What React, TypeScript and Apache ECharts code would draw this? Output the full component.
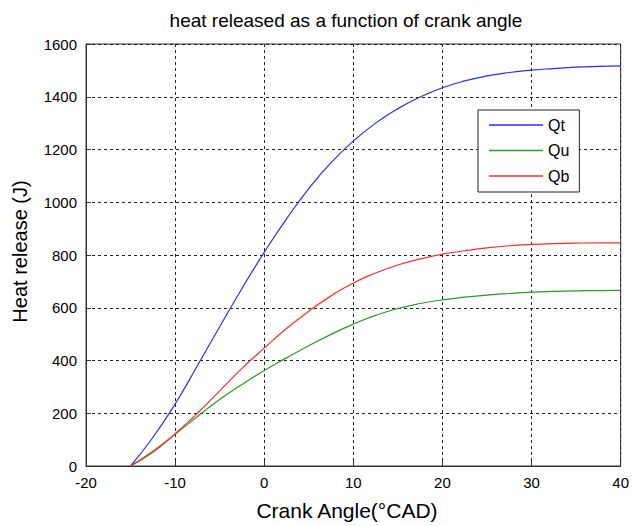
import React, { useEffect, useRef } from "react";
import * as echarts from "echarts";

const titleText = "heat released as a function of crank angle";
const xAxisTitle = "Crank Angle(°CAD)";
const yAxisTitle = "Heat release (J)";
const seriesNames = ["Qt", "Qu", "Qb"];

const crankAngle = [
  -15, -12.5, -10, -7.5, -5, -2.5, 0, 2.5, 5, 7.5, 10, 12.5, 15, 17.5, 20,
  22.5, 25, 27.5, 30, 32.5, 35, 37.5, 40,
];
const qt = [
  0, 108, 235, 380, 528, 673, 810, 937, 1052, 1150, 1232, 1300, 1355, 1399,
  1434, 1460, 1479, 1492, 1501, 1507, 1512, 1515, 1517,
];
const qu = [
  0, 56, 120, 188, 252, 309, 362, 410, 456, 499, 538, 571, 597, 616, 630, 640,
  648, 654, 659, 662, 664, 665, 666,
];
const qb = [
  0, 52, 122, 200, 285, 370, 447, 521, 587, 645, 694, 732, 762, 785, 803, 816,
  827, 835, 840, 843, 845, 846, 846,
];

const xTicks = { min: -20, max: 40, interval: 10 };
const yTicks = { min: 0, max: 1600, interval: 200 };

const FONT = "'Liberation Sans', Arial, Helvetica, sans-serif";

export default function App() {
  const ref = useRef<HTMLDivElement>(null);
  useEffect(() => {
    if (!ref.current) return;
    const chart = echarts.init(ref.current, undefined, { renderer: "svg" });
    const pairs = (ys: number[]) => crankAngle.map((x, i) => [x, ys[i]]);
    const colors = ["#2b2bff", "#2a9a2a", "#ff2b2b"];
    const values = [qt, qu, qb];
    chart.setOption({
      animation: false,
      backgroundColor: "#fff",
      textStyle: { fontFamily: FONT },
      grid: {
        left: 86,
        top: 44,
        right: 9,
        bottom: 60,
        show: true,
        borderColor: "#333",
        borderWidth: 1,
        backgroundColor: "#fff",
      },
      xAxis: {
        type: "value",
        min: xTicks.min,
        max: xTicks.max,
        interval: xTicks.interval,
        axisLine: { show: true, onZero: false, lineStyle: { color: "#333", width: 1 } },
        axisTick: { show: true, inside: true, length: 5, lineStyle: { color: "#333" } },
        axisLabel: {
          color: "#000",
          fontSize: 15,
          margin: 9,
          fontFamily: FONT,
          formatter: (v: number) => String(v),
        },
        splitLine: { show: true, lineStyle: { color: "#222", type: [3, 3], width: 1 } },
      },
      yAxis: {
        type: "value",
        min: yTicks.min,
        max: yTicks.max,
        interval: yTicks.interval,
        axisLine: { show: true, onZero: false, lineStyle: { color: "#333", width: 1 } },
        axisTick: { show: true, inside: true, length: 5, lineStyle: { color: "#333" } },
        axisLabel: {
          color: "#000",
          fontSize: 15,
          margin: 9,
          fontFamily: FONT,
          formatter: (v: number) => String(v),
        },
        splitLine: { show: true, lineStyle: { color: "#222", type: [3, 3], width: 1 } },
      },
      legend: {
        show: true,
        orient: "vertical",
        left: 478,
        top: 110,
        padding: [7, 10, 8, 11],
        icon: "rect",
        itemWidth: 54,
        itemHeight: 1.5,
        itemGap: 9.5,
        borderColor: "#222",
        borderWidth: 1,
        backgroundColor: "#fff",
        textStyle: { fontSize: 16, lineHeight: 16, color: "#000", fontFamily: FONT },
        data: seriesNames,
      },
      series: seriesNames.map((name, i) => ({
        name,
        type: "line",
        data: pairs(values[i]),
        smooth: true,
        symbol: "none",
        showSymbol: false,
        lineStyle: { color: colors[i], width: 1.2 },
        itemStyle: { color: colors[i] },
      })),
      graphic: [
        {
          type: "text",
          x: 346,
          y: 20,
          style: {
            text: titleText,
            textAlign: "center",
            textVerticalAlign: "middle",
            font: `19px ${FONT}`,
            fill: "#000",
          },
        },
        {
          type: "text",
          x: 347,
          y: 510,
          style: {
            text: xAxisTitle,
            textAlign: "center",
            textVerticalAlign: "middle",
            font: `21px ${FONT}`,
            fill: "#000",
          },
        },
        {
          type: "text",
          x: 20,
          y: 251.5,
          rotation: Math.PI / 2,
          style: {
            text: yAxisTitle,
            textAlign: "center",
            textVerticalAlign: "middle",
            font: `20px ${FONT}`,
            fill: "#000",
          },
        },
      ],
    });
    return () => chart.dispose();
  }, []);
  return (
    <div
      ref={ref}
      style={{ position: "fixed", left: 0, top: 0, width: 632, height: 526 }}
    />
  );
}
